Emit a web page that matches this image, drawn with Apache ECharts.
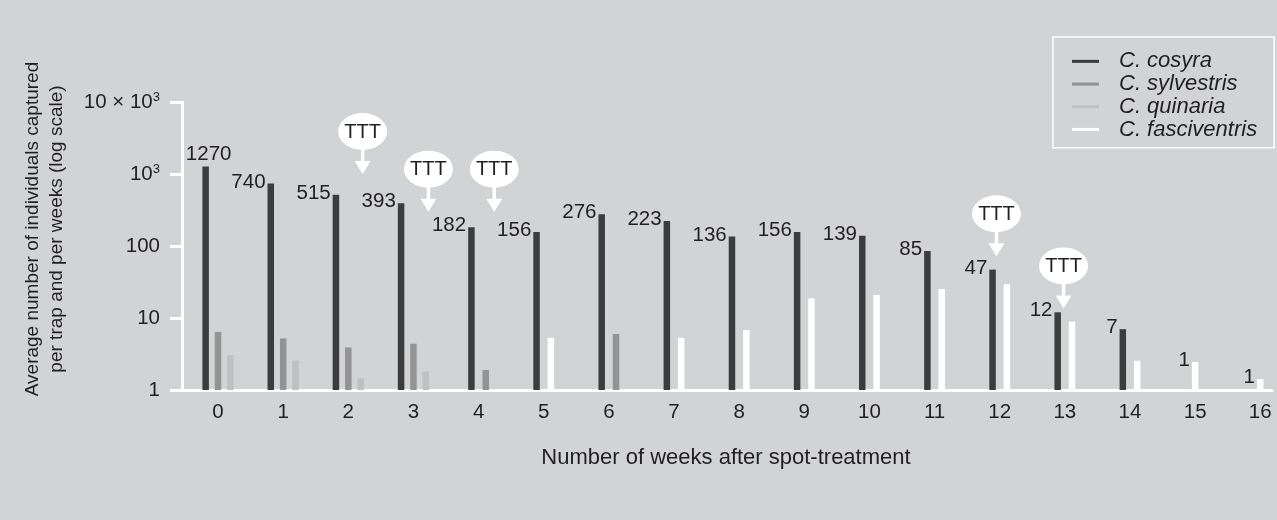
<!DOCTYPE html>
<html>
<head>
<meta charset="utf-8">
<script src="https://cdn.jsdelivr.net/npm/echarts@6/dist/echarts.min.js"></script>
<style>
html,body{margin:0;padding:0;background:#d1d3d4;}
#chart{width:1277px;height:520px;}
</style>
</head>
<body>
<div id="chart"></div>
<script>
// ---- data ----
var weeks = [0,1,2,3,4,5,6,7,8,9,10,11,12,13,14,15,16];
var speciesNames = ['C. cosyra','C. sylvestris','C. quinaria','C. fasciventris'];
var cosyra       = [1270,740,515,393,182,156,276,223,136,156,139,85,47,12,7,1,1];
var sylvestris   = [6.4,5.2,3.9,4.4,1.9,null,6.0,null,null,null,null,null,null,null,null,null,null];
var quinaria     = [3.05,2.55,1.45,1.8,null,null,null,null,null,null,null,null,null,null,null,null,null];
var fasciventris = [null,null,null,null,null,5.3,null,5.3,6.8,18.8,20.9,25.3,29.4,8.9,2.55,2.45,1.42];
var treatmentWeeks  = [2.22,3.23,4.24,11.95,12.98];
var treatmentArrowY = [1000,300,300,72,13.6];
var yTickLabels = {1:'1',10:'10',100:'100',1000:'{b|10}{s|3}',10000:'{b|10 × 10}{s|3}'};
var xTitle = 'Number of weeks after spot-treatment';
var yTitle = 'Average number of individuals captured\nper trap and per weeks (log scale)';

// ---- styles ----
var colors = ['#3c3c3c','#939393','#bfc0c1','#ffffff'];
var textColor = '#231f20';
var font = '"Liberation Sans", Arial, Helvetica, sans-serif';
var allSeries = [cosyra, sylvestris, quinaria, fasciventris];

function present(v){ return v != null && v > 1; }

var barSeries = allSeries.map(function(arr, si){
  var data = [];
  weeks.forEach(function(w, wi){
    if (!present(arr[wi])) return;
    var pres = [];
    allSeries.forEach(function(a, k){ if (present(a[wi])) pres.push(k); });
    var n = pres.length;
    var gap = n >= 3 ? 0.19 : 0.22;
    var idx = pres.indexOf(si);
    var off = (idx - (n - 1) / 2) * gap;
    var item = { value: [w + off, arr[wi]] };
    if (idx === 0) {
      var first = wi === 0;
      item.label = {
        show: true,
        formatter: String(cosyra[wi]),
        position: first ? 'top' : [-2, -1.5],
        distance: 2,
        offset: first ? [3, 0] : [0, 0],
        align: first ? 'center' : 'right',
        verticalAlign: first ? 'bottom' : 'middle',
        color: textColor,
        fontSize: 20.5,
        fontFamily: font
      };
    }
    data.push(item);
  });
  return {
    name: speciesNames[si],
    type: 'bar',
    barWidth: 6.5,
    barGap: '-100%',
    itemStyle: { color: colors[si] },
    data: data,
    silent: true,
    z: 2
  };
});

var tttSeries = {
  type: 'custom',
  name: 'TTT',
  data: treatmentWeeks.map(function(w, i){ return [w, treatmentArrowY[i]]; }),
  clip: false,
  z: 5,
  renderItem: function(params, api){
    var p = api.coord([api.value(0), api.value(1)]);
    var tx = p[0], ty = p[1];
    return {
      type: 'group',
      children: [
        { type: 'circle', x: tx, y: ty - 42.5, scaleX: 24.5 / 18.5, scaleY: 1,
          shape: { cx: 0, cy: 0, r: 18.5 }, style: { fill: '#ffffff' } },
        { type: 'rect', shape: { x: tx - 1.75, y: ty - 25, width: 3.5, height: 13 }, style: { fill: '#ffffff' } },
        { type: 'polygon', shape: { points: [[tx - 8, ty - 13], [tx + 8, ty - 13], [tx, ty]] }, style: { fill: '#ffffff' } },
        { type: 'text', style: { x: tx, y: ty - 42, text: 'TTT', fill: textColor,
          font: '20px ' + font, align: 'center', verticalAlign: 'middle' } }
      ]
    };
  }
};

var chart = echarts.init(document.getElementById('chart'));
chart.setOption({
  backgroundColor: '#d1d3d4',
  animation: false,
  grid: { left: 182, right: 5, top: 102, bottom: 130 },
  legend: {
    data: speciesNames,
    orient: 'vertical',
    left: 1053,
    top: 37,
    padding: [13, 17, 7, 19],
    itemGap: 0,
    itemWidth: 27,
    itemHeight: 3,
    icon: 'rect',
    borderColor: '#ffffff',
    borderWidth: 1.5,
    selectedMode: false,
    textStyle: {
      color: textColor, fontSize: 22, fontStyle: 'italic', fontFamily: font,
      lineHeight: 22.7, padding: [0, 0, 0, 15]
    }
  },
  xAxis: {
    type: 'value',
    min: -0.553,
    max: 16.18,
    splitLine: { show: false },
    axisTick: { show: false },
    axisLine: { show: true, onZero: false, lineStyle: { color: '#ffffff', width: 3 } },
    axisLabel: {
      customValues: weeks,
      color: textColor, fontSize: 20.5, fontFamily: font, margin: 12
    }
  },
  yAxis: {
    type: 'log',
    logBase: 10,
    min: 1,
    max: 10000,
    splitLine: { show: false },
    axisLine: { show: true, onZero: false, lineStyle: { color: '#ffffff', width: 3 } },
    axisTick: { show: true, length: 12, lineStyle: { color: '#ffffff', width: 3 } },
    axisLabel: {
      margin: 22,
      color: textColor, fontSize: 20.5, fontFamily: font,
      formatter: function(v){ return yTickLabels[Math.round(v)] || ''; },
      rich: {
        b: { fontSize: 20.5, fontFamily: font, color: textColor, lineHeight: 22 },
        s: { fontSize: 13, fontFamily: font, color: textColor, lineHeight: 13, verticalAlign: 'top' }
      }
    }
  },
  graphic: [
    { type: 'text', x: 45, y: 229, rotation: Math.PI / 2,
      style: { text: yTitle, fill: textColor, font: '19px ' + font, align: 'center',
               verticalAlign: 'middle', lineHeight: 23.5 } },
    { type: 'text', x: 726, y: 458,
      style: { text: xTitle, fill: textColor, font: '22px ' + font, align: 'center', verticalAlign: 'middle' } }
  ],
  series: barSeries.concat([tttSeries])
});
</script>
</body>
</html>
